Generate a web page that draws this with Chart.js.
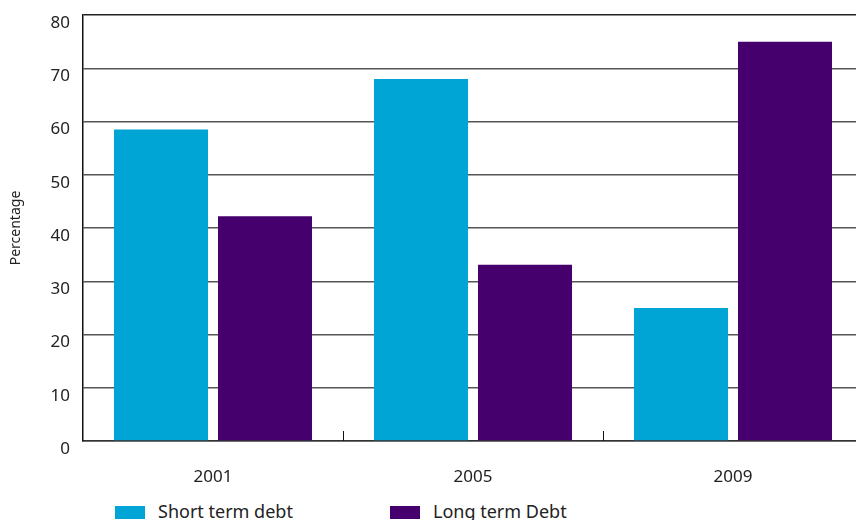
<!DOCTYPE html>
<html>
<head>
<meta charset="utf-8">
<script src="https://cdn.jsdelivr.net/npm/chart.js@4"></script>
<style>
  html, body { margin: 0; padding: 0; background: #fff; overflow: hidden; }
  body { width: 856px; height: 520px; position: relative; font-family: 'Noto Sans', sans-serif; }
  #my-chart { position: absolute; left: 0; top: 0; }
  #legend { position: absolute; left: 0; top: 502px; font-size: 18px; line-height: 18px; color: #222; }
  .item { position: absolute; top: 0; white-space: nowrap; }
  .item .box { position: absolute; left: 0; top: 4px; width: 30px; height: 13px; }
  .item .txt { display: block; padding-left: 43px; }
</style>
</head>
<body>
<canvas id="my-chart" width="864" height="495"></canvas>
<div id="legend"></div>
<script>
const years = ['2001', '2005', '2009'];
const shortTermDebt = [58.5, 68, 25];
const longTermDebt = [42.2, 33.1, 75];
const yTicksMax = 80;
const yTickStep = 10;

const seriesNames = ['Short term debt', 'Long term Debt'];
const seriesColors = ['#00a4d5', '#46006d'];

// little upward tick marks between the year groups
const innerTicks = {
  id: 'innerTicks',
  afterDatasetsDraw(chart) {
    const x = chart.scales.x;
    const bottom = chart.chartArea.bottom;
    const ctx = chart.ctx;
    ctx.save();
    ctx.strokeStyle = '#111';
    ctx.lineWidth = 1;
    for (let i = 0; i < years.length - 1; i++) {
      const px = Math.round((x.getPixelForValue(i) + x.getPixelForValue(i + 1)) / 2) + 0.5;
      ctx.beginPath();
      ctx.moveTo(px, bottom);
      ctx.lineTo(px, bottom - 10);
      ctx.stroke();
    }
    ctx.restore();
  }
};

Chart.defaults.font.family = "'Noto Sans', sans-serif";
Chart.defaults.color = '#222';

const ctx = document.querySelector('#my-chart').getContext('2d');
const chart = new Chart(ctx, {
  type: 'bar',
  data: {
    labels: years,
    datasets: [
      { label: seriesNames[0], data: shortTermDebt, backgroundColor: seriesColors[0] },
      { label: seriesNames[1], data: longTermDebt, backgroundColor: seriesColors[1] }
    ]
  },
  options: {
    responsive: false,
    animation: false,
    categoryPercentage: 0.8,
    barPercentage: 0.904,
    layout: { padding: { top: 15, right: 1, left: 0, bottom: 0 } },
    plugins: {
      legend: { display: false },
      tooltip: { enabled: false }
    },
    scales: {
      x: {
        grid: { display: false },
        border: { color: '#333', width: 1.5 },
        ticks: { padding: 18, font: { size: 17 } },
        afterFit: (s) => { s.height = 54; }
      },
      y: {
        min: 0,
        max: yTicksMax,
        ticks: { stepSize: yTickStep, padding: 13, labelOffset: 8, font: { size: 17 } },
        grid: {
          drawTicks: false,
          lineWidth: 1.5,
          color: (c) => (c.tick && c.tick.value === yTicksMax ? '#222' : '#555')
        },
        border: { color: '#111', width: 1.5 },
        title: { display: true, text: 'Percentage', font: { size: 14 }, padding: { top: 8, bottom: 0 } },
        afterFit: (s) => {
          s.width = 83;
          s.paddingTop = 0;
          s.paddingBottom = 0;
        }
      }
    }
  },
  plugins: [innerTicks]
});

// legend below the chart
const legend = document.querySelector('#legend');
const legendLeft = [115, 390];
chart.data.datasets.forEach((ds, i) => {
  const item = document.createElement('div');
  item.className = 'item';
  item.style.left = legendLeft[i] + 'px';
  item.innerHTML = '<span class="box" style="background:' + ds.backgroundColor + '"></span><span class="txt">' + ds.label + '</span>';
  legend.appendChild(item);
});
</script>
</body>
</html>
